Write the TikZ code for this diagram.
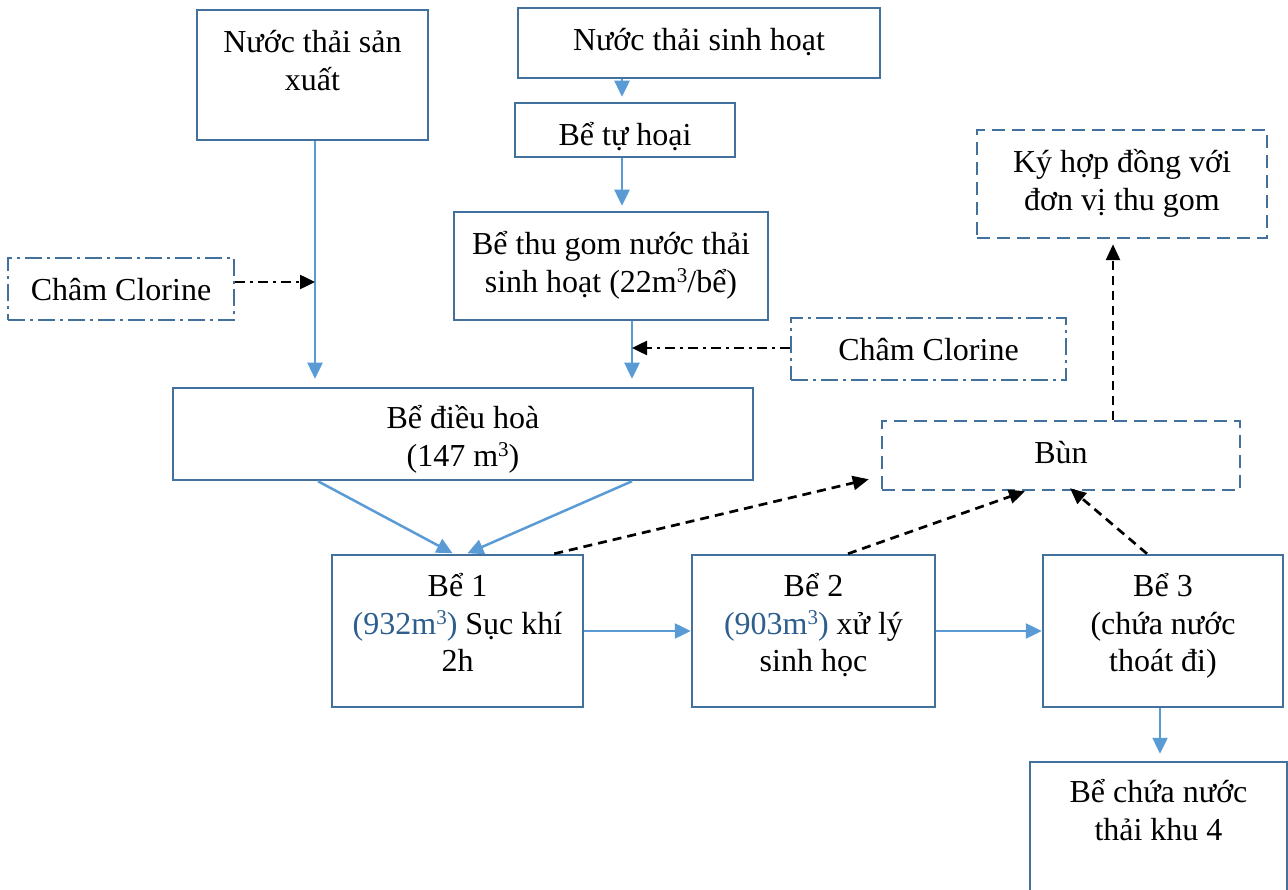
\documentclass[tikz,border=0pt]{standalone}
\usepackage{fontspec}
\setmainfont{Liberation Serif}
\usepackage{xcolor}
\usepackage{tikz}
\usetikzlibrary{arrows.meta}
\usetikzlibrary{positioning}

\definecolor{boxblue}{RGB}{65,113,156}
\definecolor{flowblue}{RGB}{91,155,213}
\definecolor{numblue}{RGB}{46,94,142}
\newcommand{\boxstrut}{\rule{0pt}{32pt}}
\newcommand{\cubed}{\raisebox{10pt}{\fontsize{21}{21}\selectfont 3}}

\tikzset{
  box/.style={draw=boxblue, line width=2.5pt, inner sep=0pt},
  dashbox/.style={box, dash pattern=on 13pt off 7pt},
  dotbox/.style={box, dash pattern=on 17pt off 5pt on 3pt off 5pt},
  txt/.style={align=center, inner sep=0pt, font=\fontsize{32}{37.5}\selectfont},
  flow/.style={draw=flowblue, line width=2.5pt, -{Triangle[length=16pt,width=15pt]}},
  chem/.style={draw=black, line width=2.5pt, dash pattern=on 10pt off 5pt on 3pt off 5pt, -{Triangle[length=15pt,width=14pt]}},
  sludge/.style={draw=black, line width=2.7pt, dash pattern=on 9pt off 6pt, -{Triangle[length=16pt,width=14pt]}}
}

\begin{document}
\begin{tikzpicture}[x=1pt,y=-1pt]
\path [use as bounding box] (0,0) rectangle (1288,890);
\clip (0,0) rectangle (1288,890);

% boxes
\node [box, minimum width=231pt, minimum height=130pt] (sx) at (312.5,75) {};
\node [box, minimum width=362pt, minimum height=70pt] (sh) at (699,43) {};
\node [box, minimum width=220pt, minimum height=54pt] (th) at (625,130) {};
\node [box, minimum width=314pt, minimum height=108pt] (tg) at (611,266) {};
\node [dashbox, minimum width=290pt, minimum height=108pt] (ky) at (1122,184) {};
\node [dotbox, minimum width=226pt, minimum height=62pt] (cl1) at (121,289) {};
\node [dotbox, minimum width=275pt, minimum height=62pt] (cl2) at (928.5,349) {};
\node [box, minimum width=580pt, minimum height=92pt] (dh) at (463,434) {};
\node [dashbox, minimum width=358pt, minimum height=69pt] (bun) at (1061,455.5) {};
\node [box, minimum width=251pt, minimum height=152pt] (b1) at (457.5,631) {};
\node [box, minimum width=243pt, minimum height=152pt] (b2) at (813.5,631) {};
\node [box, minimum width=240pt, minimum height=152pt] (b3) at (1163,631) {};
\node [box, minimum width=257pt, minimum height=158pt] (k4) at (1158.5,841) {};

% texts
\node [txt, below=12pt of sx.north] (sxt) {\boxstrut Nước thải sản\\xuất};
\node [txt, below=12pt of sh.north] (sht) {\boxstrut Nước thải sinh hoạt};
\node [txt, below=12pt of th.north] (tht) {\boxstrut Bể tự hoại};
\node [txt, below=12pt of tg.north] (tgt) {\boxstrut Bể thu gom nước thải\\sinh hoạt (22m\cubed/bể)};
\node [txt, below=12pt of ky.north] (kyt) {\boxstrut Ký hợp đồng với\\đơn vị thu gom};
\node [txt, below=12pt of cl1.north] (cl1t) {\boxstrut Châm Clorine};
\node [txt, below=12pt of cl2.north] (cl2t) {\boxstrut Châm Clorine};
\node [txt, below=10pt of dh.north] (dht) {\boxstrut Bể điều hoà\\(147 m\cubed)};
\node [txt, below=12pt of bun.north] (bunt) {\boxstrut Bùn};
\node [txt, below=11pt of b1.north] (b1t) {\boxstrut Bể 1\\{\color{numblue}(932m\cubed)} Sục khí\\2h};
\node [txt, below=11pt of b2.north] (b2t) {\boxstrut Bể 2\\{\color{numblue}(903m\cubed)} xử lý\\sinh học};
\node [txt, below=11pt of b3.north] (b3t) {\boxstrut Bể 3\\(chứa nước\\thoát đi)};
\node [txt, below=10pt of k4.north] (k4t) {\boxstrut Bể chứa nước\\thải khu 4};

% water
\draw [flow, shorten >=8pt] ([xshift=2.5pt]sx.south) -- ([xshift=2.5pt]sx.south |- dh.north);
\draw [flow, shorten >=5pt] ([xshift=-3pt]th.north |- sh.south) -- ([xshift=-3pt]th.north);
\draw [flow, shorten >=5pt] ([xshift=-3pt]th.south) -- ([xshift=-3pt]th.south |- tg.north);
\draw [flow, shorten >=8pt] ([xshift=21pt]tg.south) -- ([xshift=21pt]tg.south |- dh.north);
\draw [flow, shorten >=1pt] ([xshift=-145pt]dh.south) -- ([xshift=-4pt]b1.north);
\draw [flow, shorten >=1pt] ([xshift=169pt]dh.south) -- ([xshift=9pt]b1.north);
\draw [flow] (b1.east) -- (b2.west);
\draw [flow] (b2.east) -- (b3.west);
\draw [flow, shorten >=7pt] ([xshift=-3pt]b3.south) -- ([xshift=-3pt]b3.south |- k4.north);

% clorine
\draw [chem] ([yshift=7pt]cl1.east) -- ([xshift=2.5pt,yshift=7pt]sx.south |- cl1.east);
\draw [chem] ([yshift=1pt]cl2.west) -- ([xshift=21pt,yshift=1pt]tg.south |- cl2.west);

% sludge
\draw [sludge] ([xshift=-30pt]b1.north east) -- ([xshift=-12pt,yshift=12pt]bun.south west);
\draw [sludge] ([xshift=34.5pt]b2.north) -- ([xshift=-36pt]bun.south);
\draw [sludge] ([xshift=-16pt]b3.north) -- ([xshift=9pt,yshift=3pt]bun.south);
\draw [sludge, shorten >=5pt] ([xshift=52pt]bun.north) -- ([xshift=52pt]bun.north |- ky.south);
\end{tikzpicture}
\end{document}
